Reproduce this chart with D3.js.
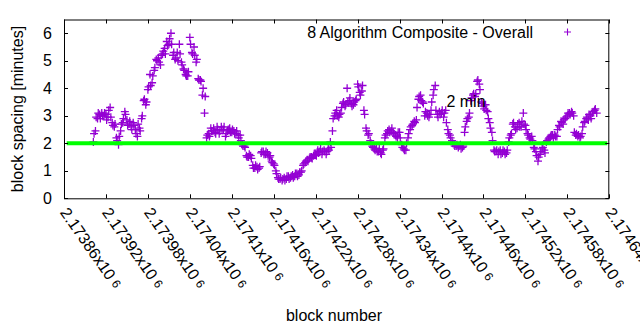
<!DOCTYPE html>
<html><head><meta charset="utf-8">
<script src="https://cdn.jsdelivr.net/npm/d3@7"></script>
<style>html,body{margin:0;padding:0;background:#fff;}svg{display:block;font-family:"Liberation Sans",Arial,sans-serif;}</style>
</head><body>
<svg id="chart" width="640" height="330"></svg>
<script>
// ---- data ----
const seriesName = "8 Algorithm Composite - Overall";
const blockStart = 2173902;   // first block plotted
const blockStep = 3;          // blocks between samples of one pass
const spacing = [
  2.05, 2.45, 2.9, 3.05, 3.1, 3.0, 3.05, 2.95, 3.3, 2.75,
  2.6, 2.2, 1.95, 2.45, 2.75, 3.15, 2.85, 2.7, 2.6, 2.75,
  2.5, 2.25, 2.55, 2.9, 3.55, 3.4, 3.95, 4.5, 4.2, 4.65,
  5.05, 5.1, 4.85, 5.25, 5.45, 5.7, 5.6, 6.0, 5.2, 5.05,
  5.3, 5.6, 4.95, 4.7, 4.5, 4.45, 5.85, 5.3, 5.5, 4.95,
  4.35, 4.3, 3.75, 3.1, 2.2, 2.35, 2.55, 2.45, 2.4, 2.6,
  2.35, 2.6, 2.5, 2.25, 2.45, 2.55, 2.4, 2.45, 2.35, 2.3,
  2.3, 1.95, 1.9, 1.55, 1.5, 1.55, 1.2, 1.1, 1.15, 1.1,
  1.65, 1.7, 1.6, 1.65, 1.5, 1.35, 1.25, 1.0, 0.75, 0.7,
  0.65, 0.75, 0.7, 0.8, 0.75, 0.85, 0.8, 0.9, 0.85, 0.95,
  1.2, 1.3, 1.4, 1.45, 1.5, 1.55, 1.6, 1.75, 1.7, 1.6,
  1.75, 1.6, 1.8, 2.05, 2.45, 3.0, 3.2, 2.95, 3.1, 3.45,
  3.35, 4.0, 3.55, 3.45, 3.4, 3.55, 4.15, 3.85, 3.9, 3.2,
  2.55, 2.3, 2.1, 1.9, 1.8, 1.8, 1.7, 1.65, 1.75, 2.2,
  2.35, 2.5, 2.45, 2.4, 2.3, 2.2, 2.4, 1.95, 1.8, 1.75,
  2.2, 2.5, 2.65, 2.8, 2.85, 3.6, 3.75, 3.5, 3.0, 3.1,
  2.95, 3.2, 3.75, 4.1, 3.05, 3.15, 3.1, 2.95, 3.2, 2.5,
  2.3, 2.1, 1.95, 1.9, 1.85, 1.95, 1.85, 2.4, 2.8, 2.95,
  3.55, 3.75, 3.7, 4.25, 4.15, 3.5, 3.35, 3.4, 3.15, 2.75,
  2.4, 1.75, 1.7, 1.6, 1.75, 1.65, 1.7, 1.65, 2.05, 2.3,
  2.7, 2.6, 2.55, 2.75, 2.6, 3.1, 2.65, 2.35, 2.2, 2.25,
  1.85, 1.7, 1.35, 1.6, 1.8, 1.75, 2.05, 2.15, 2.25, 2.3,
  2.3, 2.25, 2.65, 2.8, 2.7, 2.9, 3.0, 3.1, 3.15, 3.0,
  2.3, 2.25, 2.2, 2.35, 2.75, 2.9, 2.85, 3.0, 3.1, 3.2,
  3.1
];
// second pass: blocks in between (blockStart + 1 + i*blockStep)
const spacingAlt = [
  2.35, 2.95, 3.1, 2.9, 3.0, 3.1, 2.85, 3.2, 2.95, 2.65,
  2.7, 2.1, 2.25, 2.7, 2.9, 3.05, 2.65, 2.8, 2.5, 2.65,
  2.35, 2.7, 2.45, 3.0, 3.6, 3.5, 4.05, 4.1, 4.45, 4.75,
  5.0, 4.95, 5.2, 5.35, 5.25, 5.55, 5.8, 5.6, 5.3, 5.1,
  5.0, 5.25, 4.85, 4.65, 4.45, 4.6, 5.6, 5.25, 5.2, 5.05,
  4.3, 4.25, 4.0, 3.7, 2.3, 2.25, 2.45, 2.55, 2.35, 2.5,
  2.45, 2.5, 2.6, 2.35, 2.5, 2.4, 2.5, 2.35, 2.45, 2.2,
  2.1, 1.9, 1.85, 1.5, 1.6, 1.45, 1.1, 1.2, 1.05, 1.15,
  1.7, 1.6, 1.7, 1.55, 1.55, 1.3, 1.2, 0.9, 0.7, 0.75,
  0.7, 0.65, 0.8, 0.7, 0.8, 0.75, 0.9, 0.8, 0.95, 1.0,
  1.25, 1.35, 1.35, 1.5, 1.45, 1.6, 1.55, 1.65, 1.8, 1.7,
  1.7, 1.7, 1.75, 1.85, 2.9, 3.1, 3.0, 3.05, 3.3, 3.5,
  3.4, 3.5, 3.65, 3.35, 3.5, 3.6, 4.05, 3.75, 4.1, 3.05,
  2.45, 2.35, 2.0, 1.85, 1.75, 1.7, 1.8, 1.6, 1.8, 2.3,
  2.45, 2.4, 2.55, 2.35, 2.25, 2.4, 2.2, 1.85, 1.75, 2.0,
  2.35, 2.6, 2.7, 2.75, 3.3, 3.7, 3.55, 3.45, 3.15, 3.0,
  3.05, 3.5, 3.95, 3.2, 2.95, 3.05, 3.2, 3.1, 2.75, 2.35,
  2.2, 2.0, 1.9, 1.95, 1.9, 1.8, 1.9, 2.6, 2.9, 3.1,
  3.65, 3.8, 3.8, 4.3, 3.95, 3.45, 3.25, 3.2, 2.9, 2.55,
  2.1, 1.7, 1.75, 1.7, 1.6, 1.75, 1.6, 1.75, 2.2, 2.35,
  2.75, 2.5, 2.7, 2.6, 2.8, 2.7, 2.5, 2.3, 2.15, 2.1,
  1.8, 1.55, 1.5, 1.7, 1.85, 1.65, 2.1, 2.2, 2.3, 2.2,
  2.25, 2.5, 2.6, 2.75, 2.85, 2.95, 3.1, 3.05, 3.1, 2.4,
  2.35, 2.3, 2.25, 2.6, 2.8, 2.95, 3.05, 2.9, 3.15, 3.25
];
const blocks = spacing.map((v, i) => blockStart + i * blockStep);
const blocksAlt = spacingAlt.map((v, i) => blockStart + 1 + i * blockStep);
const xTicks = [2173860, 2173920, 2173980, 2174040, 2174100, 2174160, 2174220,
                2174280, 2174340, 2174400, 2174460, 2174520, 2174580, 2174640];
const xTickLabels = ["2.17386", "2.17392", "2.17398", "2.17404", "2.1741", "2.17416", "2.17422",
                     "2.17428", "2.17434", "2.1744", "2.17446", "2.17452", "2.17458", "2.17464"];
const yTicks = [0, 1, 2, 3, 4, 5, 6];
const targetMinutes = 2;
const targetLabel = "2 min";
const targetLabelPos = [2174407, 3.33];

// ---- layout ----
const svg = d3.select("#chart");
const L = 64, R = 609.3, T = 19.5, B = 198.3;
const purple = "#9400d3";
const x = d3.scaleLinear().domain([2173860, 2174640]).range([L, R]);
const y = d3.scaleLinear().domain([0, 6.5]).range([B, T]);
const data = blocks.map((b, i) => ({b, v: spacing[i]}))
  .concat(blocksAlt.map((b, i) => ({b, v: spacingAlt[i]})))
  .sort((a, c) => a.b - c.b);

svg.append("defs").append("clipPath").attr("id", "clip")
  .append("rect").attr("x", L).attr("y", T).attr("width", R - L).attr("height", B - T);

// points
const plus = (cx, cy, h) => `M${cx - h},${cy}H${cx + h}M${cx},${cy - h}V${cy + h}`;
const gp = svg.append("g").attr("clip-path", "url(#clip)");
gp.selectAll("path.pt").data(data).enter().append("path")
  .attr("class", "pt")
  .attr("d", d => plus(x(d.b), y(d.v), 4))
  .attr("stroke", purple).attr("stroke-width", 1.3).attr("fill", "none");

// 2-minute target line
gp.append("line")
  .attr("x1", x.range()[0] + 2.7).attr("x2", x.range()[1] - 2)
  .attr("y1", y(targetMinutes)).attr("y2", y(targetMinutes))
  .attr("stroke", "#00ff00").attr("stroke-width", 4);

// axes: frame with inward ticks on all sides
const ax = svg.append("g").attr("stroke", "#000").attr("stroke-width", 1).attr("fill", "none");
const tl = 4;
xTicks.forEach(t => {
  const px = Math.round(x(t)) + 0.5;
  ax.append("line").attr("x1", px).attr("x2", px).attr("y1", B).attr("y2", B - tl);
  ax.append("line").attr("x1", px).attr("x2", px).attr("y1", T).attr("y2", T + tl);
});
yTicks.forEach(t => {
  const py = Math.round(y(t)) + 0.5;
  ax.append("line").attr("x1", L).attr("x2", L + tl).attr("y1", py).attr("y2", py);
  ax.append("line").attr("x1", R).attr("x2", R - tl).attr("y1", py).attr("y2", py);
});
ax.append("rect").attr("x", L + 0.5).attr("y", T + 0.5).attr("width", R - L - 1).attr("height", B - T);

// y tick labels
svg.append("g").selectAll("text").data(yTicks).enter().append("text")
  .attr("x", L - 12).attr("y", d => y(d) + 5.5)
  .attr("text-anchor", "end").attr("font-size", 16).attr("fill", "#000")
  .text(d => d);

// x tick labels rotated
const xl = svg.append("g");
xTicks.forEach((t, i) => {
  const g = xl.append("text")
    .attr("transform", `translate(${x(t) - 4.5},${B + 14.3}) rotate(55)`)
    .attr("font-size", 16).attr("fill", "#000");
  g.append("tspan").text(xTickLabels[i] + "x10");
  g.append("tspan").attr("font-size", 12).attr("dx", 4).attr("dy", -1.5).text("6");
});

// axis titles
svg.append("text").attr("transform", `translate(23,109) rotate(-90)`)
  .attr("text-anchor", "middle").attr("font-size", 16).text("block spacing [minutes]");
svg.append("text").attr("x", 334).attr("y", 321)
  .attr("text-anchor", "middle").attr("font-size", 16).text("block number");

// legend
svg.append("text").attr("x", 533).attr("y", 37.5).attr("text-anchor", "end")
  .attr("font-size", 16).text(seriesName);
svg.append("path").attr("d", plus(567.5, 32, 3.5)).attr("stroke", purple)
  .attr("stroke-width", 1.1).attr("fill", "none");

// target label
svg.append("text").attr("x", x(targetLabelPos[0])).attr("y", y(targetLabelPos[1]))
  .attr("font-size", 16).attr("fill", "#000").text(targetLabel);
</script>
</body></html>
